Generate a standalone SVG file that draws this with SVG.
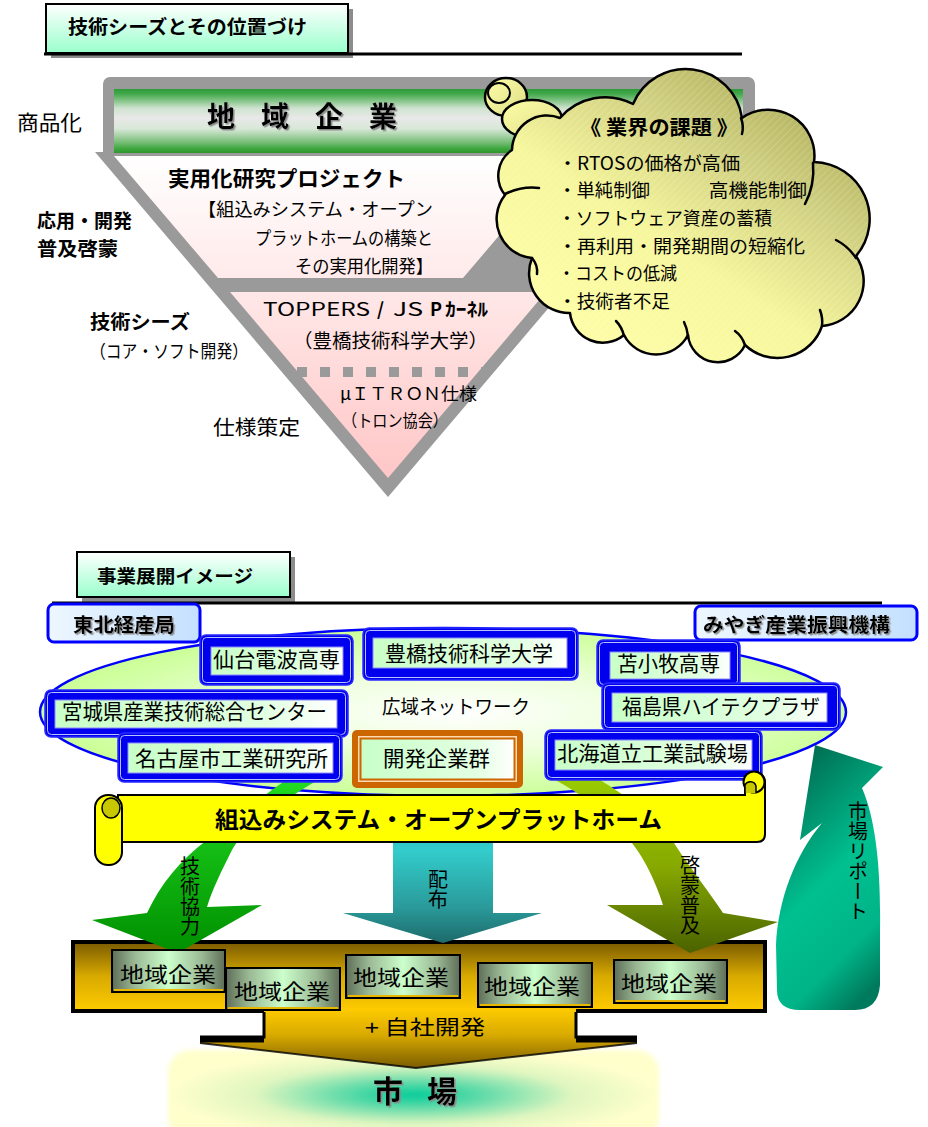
<svg xmlns="http://www.w3.org/2000/svg" width="928" height="1127" viewBox="0 0 928 1127">
<defs>
  <style>
    text { font-family: "Noto Sans CJK JP", "Noto Sans", sans-serif; fill: #000; }
    .bd { font-weight: 700; }
    .nt { font-size: 21px; }
    .vt { writing-mode: vertical-rl; font-size: 20px; }
    .blueOuter { fill: #0000ee; stroke: #2a2aff; stroke-width: 1.5; }
    .blueLine { fill: none; stroke: #b8c0ff; stroke-width: 1; }
    .blueInner { fill: url(#nodeFill); stroke: #8a8aff; stroke-width: 1; }
    .biz { fill: url(#metal); stroke: #000; stroke-width: 2; }
    .bizLine { stroke: #e8b800; stroke-width: 2; }
    .cl { fill: none; stroke: #000; stroke-width: 2.5; stroke-linecap: round; stroke-linejoin: round; }
    .gray { fill: #9a9a9a; }
    .hdr { fill: url(#hdrFill); stroke: #000; stroke-width: 2; }
    .hdrShadow { fill: #8c8c8c; }
  </style>
  <linearGradient id="hdrFill" x1="0" y1="0" x2="0" y2="1">
    <stop offset="0" stop-color="#ffffff"/>
    <stop offset="1" stop-color="#99ffcc"/>
  </linearGradient>
  <linearGradient id="barFill" x1="0" y1="0" x2="0" y2="1">
    <stop offset="0" stop-color="#2e9a3a"/>
    <stop offset="0.08" stop-color="#44aa4c"/>
    <stop offset="0.3" stop-color="#cfe3cf"/>
    <stop offset="0.45" stop-color="#e8e8e8"/>
    <stop offset="0.62" stop-color="#d8e8d8"/>
    <stop offset="0.84" stop-color="#74bc74"/>
    <stop offset="0.93" stop-color="#3ea83e"/>
    <stop offset="1" stop-color="#2e962e"/>
  </linearGradient>
  <linearGradient id="pink" gradientUnits="userSpaceOnUse" x1="0" y1="156" x2="0" y2="480">
    <stop offset="0" stop-color="#ffffff"/>
    <stop offset="0.45" stop-color="#ffe6e6"/>
    <stop offset="1" stop-color="#ffc6c6"/>
  </linearGradient>
  <linearGradient id="cloudFill" x1="0.9" y1="0.05" x2="0.15" y2="0.95">
    <stop offset="0" stop-color="#a6a650"/>
    <stop offset="0.3" stop-color="#cfcf80"/>
    <stop offset="0.6" stop-color="#f6f69c"/>
    <stop offset="1" stop-color="#ffffa8"/>
  </linearGradient>
  <linearGradient id="bubbleFill" x1="0" y1="0" x2="1" y2="1">
    <stop offset="0" stop-color="#ffffa8"/>
    <stop offset="1" stop-color="#dcdc88"/>
  </linearGradient>
  <pattern id="hatch" width="5" height="5" patternUnits="userSpaceOnUse" patternTransform="rotate(45)">
    <line x1="0" y1="0" x2="0" y2="5" stroke="#ffffff" stroke-width="1" stroke-opacity="0.35"/>
  </pattern>
  <linearGradient id="nodeFill" x1="0" y1="0" x2="1" y2="0">
    <stop offset="0" stop-color="#c8ffc8"/>
    <stop offset="0.75" stop-color="#e2ffe2"/>
    <stop offset="1" stop-color="#ffffff"/>
  </linearGradient>
  <linearGradient id="agencyFill" x1="0" y1="0" x2="1" y2="0">
    <stop offset="0" stop-color="#eef7ff"/>
    <stop offset="1" stop-color="#c4e0ff"/>
  </linearGradient>
  <radialGradient id="netFill" cx="0.52" cy="0.5" r="0.5">
    <stop offset="0" stop-color="#ffffff"/>
    <stop offset="0.45" stop-color="#eeffdd"/>
    <stop offset="1" stop-color="#ccff99"/>
  </radialGradient>
  <linearGradient id="frameFill" x1="0" y1="0" x2="0" y2="1">
    <stop offset="0" stop-color="#7a5a00"/>
    <stop offset="0.5" stop-color="#d8aa00"/>
    <stop offset="1" stop-color="#ffcc00"/>
  </linearGradient>
  <linearGradient id="funnelFill" gradientUnits="userSpaceOnUse" x1="0" y1="1008" x2="0" y2="1068">
    <stop offset="0" stop-color="#ffcc00"/>
    <stop offset="0.45" stop-color="#d8aa00"/>
    <stop offset="1" stop-color="#7a5c00"/>
  </linearGradient>
  <radialGradient id="marketFill" cx="0.5" cy="0.5" r="0.5">
    <stop offset="0" stop-color="#00cc99"/>
    <stop offset="0.3" stop-color="#66dcaa"/>
    <stop offset="0.65" stop-color="#e0f6c0"/>
    <stop offset="1" stop-color="#ffffcc"/>
  </radialGradient>
  <linearGradient id="metal" x1="0" y1="0" x2="1" y2="0">
    <stop offset="0" stop-color="#5e6e58"/>
    <stop offset="0.2" stop-color="#9ab894"/>
    <stop offset="0.5" stop-color="#ccffcc"/>
    <stop offset="0.8" stop-color="#9ab894"/>
    <stop offset="1" stop-color="#5e6e58"/>
  </linearGradient>
  <linearGradient id="greenArrow" x1="0" y1="0" x2="0" y2="1">
    <stop offset="0" stop-color="#22dd22"/>
    <stop offset="1" stop-color="#008f00"/>
  </linearGradient>
  <linearGradient id="tealArrow" x1="0" y1="0" x2="0" y2="1">
    <stop offset="0" stop-color="#2ab0b0"/>
    <stop offset="0.35" stop-color="#33cccc"/>
    <stop offset="0.75" stop-color="#2a9a9a"/>
    <stop offset="1" stop-color="#1d6a6a"/>
  </linearGradient>
  <linearGradient id="oliveArrow" x1="0" y1="0" x2="0" y2="1">
    <stop offset="0" stop-color="#99cc00"/>
    <stop offset="0.5" stop-color="#88aa00"/>
    <stop offset="1" stop-color="#4a6200"/>
  </linearGradient>
  <linearGradient id="reportArrow" x1="0.3" y1="0" x2="0.7" y2="1">
    <stop offset="0" stop-color="#006a50"/>
    <stop offset="0.5" stop-color="#00c090"/>
    <stop offset="0.8" stop-color="#00b488"/>
    <stop offset="1" stop-color="#007a5c"/>
  </linearGradient>
  <filter id="tsh" x="-5%" y="-20%" width="115%" height="150%">
    <feDropShadow dx="1.5" dy="1.5" stdDeviation="0.4" flood-color="#8a8a8a"/>
  </filter>
  <filter id="soft" x="-5%" y="-10%" width="110%" height="130%">
    <feGaussianBlur stdDeviation="2.5"/>
  </filter>
  <path id="cloudPath" d="M 512,150 A 35,35 0 0 1 560,118 A 60,60 0 0 1 633,104 A 57,57 0 0 1 742,118 A 46,46 0 0 1 814,162 A 57,57 0 0 1 856,256 A 45,45 0 0 1 822,326 A 47,47 0 0 1 745,345 A 30,30 0 0 1 688,335 A 36,36 0 0 1 624,335 A 33,33 0 0 1 570,313 A 40,40 0 0 1 532,258 A 39,39 0 0 1 505,195 A 31,31 0 0 1 512,150 Z"/>
</defs>

<rect width="928" height="1127" fill="#ffffff"/>

<!-- ===== Section 1 : technology seeds ===== -->
<g id="header-seeds">
  <rect class="hdrShadow" x="51" y="9" width="302" height="49"/>
  <rect class="hdr" x="46" y="4" width="302" height="49"/>
  <text class="bd" x="68" y="34" font-size="19" textLength="239" lengthAdjust="spacingAndGlyphs">技術シーズとその位置づけ</text>
</g>
<line x1="44" y1="54" x2="742" y2="54" stroke="#000" stroke-width="3"/>

<!-- inverted pyramid -->
<g id="pyramid">
  <rect class="gray" x="103" y="77" width="652" height="82" rx="7"/>
  <polygon class="gray" points="95,152 681,152 388,497"/>
  <rect x="114" y="89" width="629" height="64" fill="url(#barFill)"/>
  <polygon points="114,156 567,156 463,278 218,278" fill="url(#pink)"/>
  <polygon points="230,292 546,292 388,478" fill="url(#pink)"/>
  <line x1="297" y1="372" x2="490" y2="372" stroke="#9a9a9a" stroke-width="10" stroke-dasharray="10 13"/>
</g>

<g id="tier-company">
  <text class="bd" y="127" font-size="28" filter="url(#tsh)"><tspan x="207">地</tspan><tspan x="261">域</tspan><tspan x="315">企</tspan><tspan x="369">業</tspan></text>
</g>

<g id="tier-project">
  <text class="bd" x="168" y="186" font-size="21" textLength="237" lengthAdjust="spacingAndGlyphs">実用化研究プロジェクト</text>
  <text x="198" y="216" font-size="18" textLength="235" lengthAdjust="spacingAndGlyphs">【組込みシステム・オープン</text>
  <text x="255" y="245" font-size="18" textLength="178" lengthAdjust="spacingAndGlyphs">プラットホームの構築と</text>
  <text x="295" y="273" font-size="18" textLength="138" lengthAdjust="spacingAndGlyphs">その実用化開発】</text>
</g>

<g id="tier-kernel">
  <text y="316" font-size="18"><tspan x="263" textLength="107" lengthAdjust="spacingAndGlyphs">TOPPERS</tspan><tspan x="377" class="bd">/</tspan><tspan x="393" textLength="30" lengthAdjust="spacingAndGlyphs">JS</tspan><tspan x="430" class="bd">P</tspan><tspan x="445" class="bd" textLength="43" lengthAdjust="spacingAndGlyphs">ｶｰﾈﾙ</tspan></text>
  <text x="293" y="348" font-size="19" textLength="195" lengthAdjust="spacingAndGlyphs">（豊橋技術科学大学）</text>
</g>

<g id="tier-spec">
  <text x="340" y="400" font-size="17" textLength="137" lengthAdjust="spacingAndGlyphs">μＩＴＲＯＮ仕様</text>
  <text x="342" y="427" font-size="17" textLength="106" lengthAdjust="spacingAndGlyphs">（トロン協会）</text>
</g>

<g id="side-labels">
  <text x="17" y="130" font-size="21" textLength="65" lengthAdjust="spacingAndGlyphs">商品化</text>
  <text class="bd" x="37" y="228" font-size="19" textLength="95" lengthAdjust="spacingAndGlyphs">応用・開発</text>
  <text class="bd" x="37" y="256" font-size="19" textLength="81" lengthAdjust="spacingAndGlyphs">普及啓蒙</text>
  <text class="bd" x="90" y="329" font-size="19" textLength="100" lengthAdjust="spacingAndGlyphs">技術シーズ</text>
  <text x="90" y="358" font-size="18" textLength="158" lengthAdjust="spacingAndGlyphs">（コア・ソフト開発）</text>
  <text x="213" y="435" font-size="20" textLength="87" lengthAdjust="spacingAndGlyphs">仕様策定</text>
</g>

<!-- thought cloud: industry issues -->
<g id="issues-cloud">
  <ellipse cx="506" cy="97" rx="21" ry="19" class="cl" style="fill:url(#bubbleFill)"/>
  <ellipse cx="499" cy="93" rx="11" ry="10" class="cl" style="stroke-width:2"/>
  <ellipse cx="532" cy="119" rx="30" ry="19" class="cl" style="fill:url(#bubbleFill)"/>
  <use href="#cloudPath" fill="url(#cloudFill)"/>
  <use href="#cloudPath" fill="url(#hatch)"/>
  <use href="#cloudPath" class="cl"/>
  <path class="cl" d="M 741,118 Q 744,126 742,134"/>
  <path class="cl" d="M 813,163 Q 815,185 805,204"/>
  <path class="cl" d="M 856,258 Q 848,246 836,240"/>
  <path class="cl" d="M 822,326 Q 823,318 820,310"/>
  <path class="cl" d="M 745,345 Q 742,336 735,331"/>
  <path class="cl" d="M 688,336 Q 687,328 684,322"/>
  <path class="cl" d="M 624,336 Q 622,327 616,321"/>
  <path class="cl" d="M 532,258 Q 538,265 537,274"/>
  <path class="cl" d="M 505,194 Q 522,186 539,188"/>
  <text class="bd" x="580" y="135" font-size="20" textLength="158" lengthAdjust="spacingAndGlyphs">《 業界の課題 》</text>
  <text x="558" y="170" font-size="18" textLength="182" lengthAdjust="spacingAndGlyphs">・RTOSの価格が高価</text>
  <text y="197" font-size="18"><tspan x="558" textLength="92" lengthAdjust="spacingAndGlyphs">・単純制御</tspan><tspan x="650" textLength="157" lengthAdjust="spacingAndGlyphs">　　　高機能制御</tspan></text>
  <text x="558" y="225" font-size="18" textLength="214" lengthAdjust="spacingAndGlyphs">・ソフトウェア資産の蓄積</text>
  <text x="558" y="253" font-size="18" textLength="247" lengthAdjust="spacingAndGlyphs">・再利用・開発期間の短縮化</text>
  <text x="558" y="280" font-size="18" textLength="119" lengthAdjust="spacingAndGlyphs">・コストの低減</text>
  <text x="558" y="308" font-size="18" textLength="112" lengthAdjust="spacingAndGlyphs">・技術者不足</text>
</g>

<!-- ===== Section 2 : business rollout ===== -->
<g id="header-rollout">
  <rect class="hdrShadow" x="82" y="557" width="213" height="45"/>
  <rect class="hdr" x="77" y="552" width="213" height="45"/>
  <text class="bd" x="97" y="583" font-size="18" textLength="156" lengthAdjust="spacingAndGlyphs">事業展開イメージ</text>
</g>
<line x1="52" y1="603" x2="882" y2="603" stroke="#000" stroke-width="3"/>

<g id="agency-tohoku">
  <rect x="48" y="604" width="152" height="38" rx="6" fill="url(#agencyFill)" stroke="#0000ff" stroke-width="3"/>
  <text class="bd" x="73" y="632" font-size="19" textLength="102" lengthAdjust="spacingAndGlyphs" filter="url(#tsh)">東北経産局</text>
</g>
<g id="agency-miyagi">
  <rect x="695" y="606" width="222" height="34" rx="6" fill="url(#agencyFill)" stroke="#0000ff" stroke-width="3"/>
  <text class="bd" x="703" y="632" font-size="19" textLength="187" lengthAdjust="spacingAndGlyphs" filter="url(#tsh)">みやぎ産業振興機構</text>
</g>

<g id="network">
  <ellipse cx="443" cy="712" rx="403" ry="84" fill="url(#netFill)" stroke="#0000ff" stroke-width="2.5"/>
  <text x="382" y="714" font-size="19" textLength="148" lengthAdjust="spacingAndGlyphs">広域ネットワーク</text>
</g>

<!-- regional companies frame and outflow to market -->
<g id="market">
  <rect x="168" y="1050" width="491" height="90" rx="22" fill="url(#marketFill)" filter="url(#soft)"/>
  <text class="bd" y="1102" font-size="30" filter="url(#tsh)" fill="#1a1a1a"><tspan x="373">市</tspan><tspan x="427">場</tspan></text>
</g>

<g id="company-frame">
  <rect x="73" y="942" width="692" height="69" fill="url(#frameFill)" stroke="#000" stroke-width="4"/>
  <polygon points="264,1009 576,1009 576,1037 637,1037 637,1043 416,1068 200,1043 200,1037 264,1037" fill="url(#funnelFill)"/>
  <polyline points="264,1012 264,1037 200,1037" fill="none" stroke="#000" stroke-width="3"/>
  <polyline points="576,1012 576,1037 637,1037" fill="none" stroke="#000" stroke-width="3"/>
  <line x1="200" y1="1040" x2="264" y2="1040" stroke="#000" stroke-width="5"/>
  <line x1="576" y1="1040" x2="637" y2="1040" stroke="#000" stroke-width="5"/>
  <polyline points="200,1043 416,1068 637,1043" fill="none" stroke="#000" stroke-width="2" stroke-opacity="0.8"/>
  <text x="365" y="1035" font-size="20" textLength="120" lengthAdjust="spacingAndGlyphs">+ 自社開発</text>
</g>

<!-- connectors -->
<g id="connectors">
  <path id="arrow-cooperation" d="M 292,776 L 324,776 C 285,800 245,825 232,850 C 222,870 212,890 207,907 L 262,905 L 178,953 L 92,920 L 147,913 C 160,885 180,860 207,840 C 232,820 262,796 292,776 Z" fill="url(#greenArrow)"/>
  <path id="arrow-distribution" d="M 393,800 L 493,800 L 493,913 L 542,913 L 443,943 L 343,913 L 393,913 Z" fill="url(#tealArrow)"/>
  <path id="arrow-promotion" d="M 548,776 L 600,780 C 630,798 662,822 676,846 C 690,868 710,893 723,913 L 778,922 L 690,953 L 607,905 L 663,905 C 655,880 645,860 632,843 C 615,820 585,795 548,776 Z" fill="url(#oliveArrow)"/>
  <path id="arrow-report" d="M 815,745 L 883,767 L 862,788 C 876,820 881,870 880,930 L 880,985 Q 878,1010 855,1010 L 800,1010 Q 777,1010 777,990 L 776,945 C 778,900 795,855 822,823 L 800,840 Z" fill="url(#reportArrow)"/>
  <text class="vt" x="190" y="856">技術協力</text>
  <text class="vt" x="438" y="869">配布</text>
  <text class="vt" x="690" y="855" font-size="21">啓蒙普及</text>
  <text class="vt" x="858" y="801">市場リポート</text>
</g>

<!-- network members -->
<g id="node-sendai">
  <rect class="blueOuter" x="200" y="635" width="153" height="50" rx="6"/>
  <rect class="blueLine" x="202.5" y="637.5" width="148" height="45" rx="4"/>
  <rect class="blueInner" x="211" y="647" width="132" height="28"/>
  <text class="nt" x="213" y="667" textLength="127" lengthAdjust="spacingAndGlyphs">仙台電波高専</text>
</g>
<g id="node-toyohashi">
  <rect class="blueOuter" x="363" y="628" width="215" height="52" rx="6"/>
  <rect class="blueLine" x="365.5" y="630.5" width="210" height="47" rx="4"/>
  <rect class="blueInner" x="373" y="638" width="194" height="30"/>
  <text class="nt" x="385" y="661" textLength="168" lengthAdjust="spacingAndGlyphs">豊橋技術科学大学</text>
</g>
<g id="node-tomakomai">
  <rect class="blueOuter" x="597" y="640" width="143" height="47" rx="6"/>
  <rect class="blueLine" x="599.5" y="642.5" width="138" height="42" rx="4"/>
  <rect class="blueInner" x="610" y="652" width="120" height="27"/>
  <text class="nt" x="617" y="671" textLength="103" lengthAdjust="spacingAndGlyphs">苫小牧高専</text>
</g>
<g id="node-miyagi">
  <rect class="blueOuter" x="45" y="690" width="303" height="47" rx="6"/>
  <rect class="blueLine" x="47.5" y="692.5" width="298" height="42" rx="4"/>
  <rect class="blueInner" x="55" y="700" width="282" height="28"/>
  <text class="nt" x="62" y="719" textLength="265" lengthAdjust="spacingAndGlyphs">宮城県産業技術総合センター</text>
</g>
<g id="node-fukushima">
  <rect class="blueOuter" x="602" y="683" width="238" height="47" rx="6"/>
  <rect class="blueLine" x="604.5" y="685.5" width="233" height="42" rx="4"/>
  <rect class="blueInner" x="612" y="693" width="215" height="29"/>
  <text class="nt" x="622" y="714" textLength="198" lengthAdjust="spacingAndGlyphs">福島県ハイテクプラザ</text>
</g>
<g id="node-nagoya">
  <rect class="blueOuter" x="118" y="733" width="224" height="49" rx="6"/>
  <rect class="blueLine" x="120.5" y="735.5" width="219" height="44" rx="4"/>
  <rect class="blueInner" x="128" y="743" width="205" height="30"/>
  <text class="nt" x="135" y="766" textLength="193" lengthAdjust="spacingAndGlyphs">名古屋市工業研究所</text>
</g>
<g id="node-hokkaido">
  <rect class="blueOuter" x="545" y="730" width="217" height="50" rx="6"/>
  <rect class="blueLine" x="547.5" y="732.5" width="212" height="45" rx="4"/>
  <rect class="blueInner" x="555" y="740" width="197" height="30"/>
  <text class="nt" x="557" y="761" textLength="191" lengthAdjust="spacingAndGlyphs">北海道立工業試験場</text>
</g>
<g id="node-developers">
  <rect x="352" y="730" width="171" height="58" rx="5" fill="#cc6600"/>
  <rect x="358" y="736" width="159" height="46" fill="#ffd9b0"/>
  <rect x="360.5" y="738.5" width="154" height="41" fill="url(#nodeFill)" stroke="#cc6600" stroke-width="2"/>
  <text class="nt" x="383" y="766" textLength="107" lengthAdjust="spacingAndGlyphs">開発企業群</text>
</g>

<!-- platform scroll banner -->
<g id="platform">
  <path d="M 118,795 L 745,795 L 745,782 A 10,10 0 0 1 765,782 L 765,834 Q 765,842 757,842 L 118,842 Z" fill="#ffff00" stroke="#000" stroke-width="2"/>
  <circle cx="754" cy="782" r="10.5" fill="#ffff00" stroke="#000" stroke-width="2"/>
  <path d="M 745,793 L 745,785 A 6,6 0 0 1 756,786 L 756,793" fill="#c8c800" stroke="#000" stroke-width="1.5"/>
  <rect x="95" y="795" width="27" height="70" rx="13" fill="#ffff00" stroke="#000" stroke-width="2"/>
  <ellipse cx="111" cy="808" rx="9" ry="10" fill="#c8c800" stroke="#000" stroke-width="1.5"/>
  <text class="bd" x="215" y="828" font-size="23" textLength="447" lengthAdjust="spacingAndGlyphs">組込みシステム・オープンプラットホーム</text>
</g>

<!-- regional companies -->
<g id="company-1">
  <rect class="biz" x="112" y="950" width="113" height="42"/>
  <line class="bizLine" x1="114" y1="990" x2="223" y2="990"/>
  <text class="nt" x="120" y="982" textLength="96" lengthAdjust="spacingAndGlyphs">地域企業</text>
</g>
<g id="company-2">
  <rect class="biz" x="226" y="968" width="114" height="42"/>
  <line class="bizLine" x1="228" y1="1008" x2="338" y2="1008"/>
  <text class="nt" x="234" y="999" textLength="96" lengthAdjust="spacingAndGlyphs">地域企業</text>
</g>
<g id="company-3">
  <rect class="biz" x="346" y="955" width="114" height="43"/>
  <line class="bizLine" x1="348" y1="996" x2="458" y2="996"/>
  <text class="nt" x="353" y="985" textLength="96" lengthAdjust="spacingAndGlyphs">地域企業</text>
</g>
<g id="company-4">
  <rect class="biz" x="478" y="963" width="114" height="44"/>
  <line class="bizLine" x1="480" y1="1005" x2="590" y2="1005"/>
  <text class="nt" x="484" y="994" textLength="96" lengthAdjust="spacingAndGlyphs">地域企業</text>
</g>
<g id="company-5">
  <rect class="biz" x="614" y="960" width="113" height="43"/>
  <line class="bizLine" x1="616" y1="1001" x2="725" y2="1001"/>
  <text class="nt" x="621" y="991" textLength="96" lengthAdjust="spacingAndGlyphs">地域企業</text>
</g>
</svg>
